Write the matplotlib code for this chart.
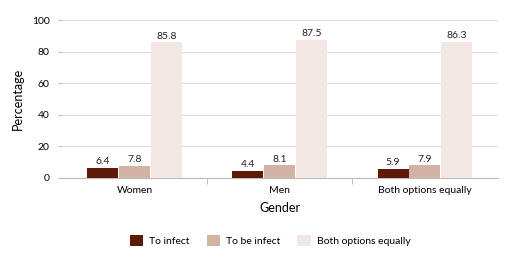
import matplotlib
matplotlib.use("Agg")
import matplotlib.pyplot as plt
import numpy as np

categories = ["Women", "Men", "Both options equally"]
series_names = ["To infect", "To be infect", "Both options equally"]
to_infect = [6.4, 4.4, 5.9]
to_be_infect = [7.8, 8.1, 7.9]
both_equally = [85.8, 87.5, 86.3]
yticks = [0, 20, 40, 60, 80, 100]

colors = ["#5E1A08", "#D3B4A4", "#F3E7E4"]
plt.rcParams['font.family'] = ['Lato', 'DejaVu Sans']

fig = plt.figure(figsize=(5.10, 2.64), dpi=100)
ax = fig.add_axes([0.1216, 0.326, 0.854, 0.598])

x = np.arange(len(categories))
w = 0.22
data = [to_infect, to_be_infect, both_equally]
for i, (vals, c, name) in enumerate(zip(data, colors, series_names)):
    bars = ax.bar(x + (i - 1) * w, vals, width=w * 0.97, color=c, label=name, zorder=3)
    for b, v in zip(bars, vals):
        ax.text(b.get_x() + b.get_width() / 2, v + 1.0, f"{v}", ha="center", va="bottom",
                fontsize=7.5, color="#222222", zorder=4)

ax.set_xlim(-0.5, 2.5)
ax.set_ylim(0, 100)
ax.set_yticks(yticks)
ax.set_yticklabels([str(t) for t in yticks], fontsize=7.5)
ax.yaxis.grid(True, color="#DDDDDD", linewidth=0.8, zorder=0)
ax.set_xticks(x)
ax.set_xticklabels(categories, fontsize=7.5)
ax.tick_params(axis="x", length=0, pad=6)
ax.set_xticks([0.5, 1.5], minor=True)
ax.tick_params(axis="x", which="minor", length=4, color="#BBBBBB")
ax.tick_params(axis="y", length=3, color="#BBBBBB", pad=6)
for s in ["top", "right", "left"]:
    ax.spines[s].set_visible(False)
ax.spines["bottom"].set_color("#BBBBBB")
ax.set_ylabel("Percentage", fontsize=9, labelpad=6)
ax.set_xlabel("Gender", fontsize=9, labelpad=5)

handles, labels = ax.get_legend_handles_labels()
fig.legend(handles, labels, loc="center", bbox_to_anchor=(0.53, 0.09), ncol=3,
           frameon=False, fontsize=7.5, handlelength=1.3, handleheight=1.3,
           columnspacing=1.6, handletextpad=0.6)

fig.savefig("out.png", dpi=100)
